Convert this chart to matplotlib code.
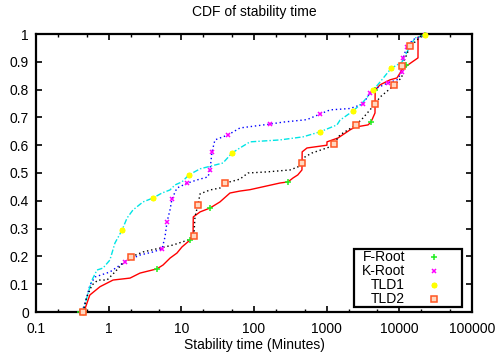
import matplotlib
matplotlib.use("Agg")
import matplotlib.pyplot as plt
from matplotlib.ticker import LogLocator, FixedLocator, NullFormatter
from matplotlib.patches import Rectangle

# ---------------- data ----------------
title = "CDF of stability time"
xlabel = "Stability time (Minutes)"
series_names = ["F-Root", "K-Root", "TLD1", "TLD2"]

f_x = [0.40, 0.47, 0.55, 0.76, 1.15, 1.97, 2.7, 4.6, 5.6, 7.0, 8.7, 10.2, 13.2, 14.5, 14.6,
       18.1, 24.8, 34, 46.7, 64, 88, 228, 294, 344, 400, 457, 460, 536, 1009, 1010, 1432,
       2094, 2455, 3706, 4070, 4625, 4650, 5420, 7430, 9290, 10870, 11960, 14940, 18060,
       18100, 22540, 25000]
f_y = [0.0, 0.01, 0.061, 0.091, 0.115, 0.122, 0.14, 0.155, 0.169, 0.194, 0.212, 0.234, 0.259,
       0.277, 0.342, 0.36, 0.374, 0.396, 0.428, 0.435, 0.44, 0.464, 0.468, 0.482, 0.493, 0.511,
       0.576, 0.59, 0.60, 0.612, 0.626, 0.655, 0.665, 0.673, 0.683, 0.716, 0.799, 0.817, 0.835,
       0.842, 0.871, 0.881, 0.899, 0.914, 0.989, 0.996, 1.0]
f_mx = [0.40, 4.6, 13.2, 24.8, 294, 4070, 4625, 12340, 22540]
f_my = [0.0, 0.155, 0.259, 0.374, 0.468, 0.683, 0.80, 0.888, 0.996]

k_x = [0.43, 0.50, 0.553, 0.65, 1.04, 1.68, 2.70, 4.07, 5.42, 5.96, 6.35, 6.98, 7.44, 8.7,
       11.97, 16.4, 23.3, 24.8, 26.4, 29, 43.9, 64, 166, 250, 536, 809, 1111, 2094, 3162,
       3945, 4925, 6980, 9290, 10870, 11220, 12740, 15420, 22540, 25000]
k_y = [0.0, 0.054, 0.097, 0.126, 0.144, 0.181, 0.205, 0.216, 0.227, 0.27, 0.324, 0.367, 0.407,
       0.446, 0.463, 0.475, 0.486, 0.511, 0.575, 0.619, 0.637, 0.662, 0.676, 0.683, 0.692,
       0.712, 0.727, 0.732, 0.748, 0.788, 0.806, 0.824, 0.835, 0.863, 0.914, 0.953, 0.98,
       0.995, 1.0]
k_mx = [0.43, 1.68, 5.42, 6.35, 7.44, 11.97, 24.8, 26.4, 43.9, 166, 809, 3162, 3945, 6980,
        10870, 11220, 12740, 22540]
k_my = [0.0, 0.181, 0.227, 0.324, 0.407, 0.463, 0.511, 0.575, 0.637, 0.676, 0.712, 0.748,
        0.788, 0.824, 0.863, 0.914, 0.953, 0.995]

t1_x = [0.444, 0.52, 0.59, 0.69, 0.836, 1.04, 1.22, 1.53, 1.79, 2.16, 2.97, 4.07, 5.42, 6.98,
        8.18, 10.2, 12.7, 18.1, 37.4, 49.8, 64, 88, 228, 472, 809, 1387, 1525, 2302, 3162,
        4340, 5420, 7680, 10870, 13150, 16410, 22540, 25000]
t1_y = [0.0, 0.068, 0.115, 0.151, 0.158, 0.187, 0.248, 0.295, 0.338, 0.367, 0.396, 0.41,
        0.428, 0.439, 0.457, 0.468, 0.493, 0.515, 0.536, 0.572, 0.59, 0.612, 0.619, 0.63,
        0.648, 0.673, 0.69, 0.723, 0.755, 0.797, 0.827, 0.876, 0.899, 0.942, 0.986, 0.996, 1.0]
t1_mx = [0.444, 1.53, 4.07, 12.7, 49.8, 809, 2302, 4340, 7680, 22540]
t1_my = [0.0, 0.295, 0.41, 0.493, 0.572, 0.648, 0.723, 0.797, 0.876, 0.996]

t2_x = [0.444, 0.50, 0.59, 0.713, 0.95, 1.22, 1.57, 2.03, 2.97, 5.09, 7.68, 12.4, 14.9, 15.4,
        16.9, 18.1, 24.8, 34, 39.9, 51.4, 64, 82.6, 151, 313, 403, 457, 503, 628, 1111, 1262,
        1525, 2531, 3162, 4625, 5420, 8440, 10870, 10900, 14020, 17500, 21150]
t2_y = [0.0, 0.054, 0.097, 0.115, 0.115, 0.144, 0.176, 0.198, 0.216, 0.23, 0.241, 0.259,
        0.273, 0.342, 0.385, 0.425, 0.439, 0.446, 0.464, 0.471, 0.478, 0.50, 0.504, 0.511,
        0.522, 0.536, 0.558, 0.572, 0.594, 0.606, 0.637, 0.673, 0.698, 0.748, 0.773, 0.815,
        0.845, 0.885, 0.955, 0.978, 1.0]
t2_mx = [0.444, 2.03, 14.9, 16.9, 39.9, 457, 1262, 2531, 4625, 8440, 10900, 14020]
t2_my = [0.0, 0.198, 0.273, 0.385, 0.464, 0.536, 0.606, 0.673, 0.748, 0.815, 0.885, 0.957]

x_ticks = [0.1, 1, 10, 100, 1000, 10000, 100000]
x_tick_labels = ["0.1", "1", "10", "100", "1000", "10000", "100000"]
y_ticks = [0, 0.1, 0.2, 0.3, 0.4, 0.5, 0.6, 0.7, 0.8, 0.9, 1.0]
y_tick_labels = ["0", "0.1", "0.2", "0.3", "0.4", "0.5", "0.6", "0.7", "0.8", "0.9", "1"]

# ---------------- styling ----------------
plt.rcParams['font.family'] = ['Liberation Sans', 'DejaVu Sans']
FS = 10
plt.rcParams['font.size'] = FS

fig = plt.figure(figsize=(4.96, 3.56), dpi=100)
ax = fig.add_axes([36/496, 1-312/356, 436/496, 278/356])

lines = [
    (f_x, f_y, f_mx, f_my, dict(color='#ff0000', lw=1.0, ls='-'),
     dict(marker='+', color='#22ee22', ms=4.5, mew=1.1)),
    (k_x, k_y, k_mx, k_my, dict(color='#0000ff', lw=1.0, ls=(0, (1, 2))),
     dict(marker='x', color='#ff00ff', ms=3.5, mew=1.1)),
    (t1_x, t1_y, t1_mx, t1_my, dict(color='#00e5e5', lw=1.0, ls=(0, (4, 1.5, 1, 1.5))),
     dict(marker=(8, 2, 0), color='#ffff00', ms=4, mew=1.4)),
    (t2_x, t2_y, t2_mx, t2_my, dict(color='#000000', lw=1.0, ls=(0, (1, 2))),
     dict(marker='s', mfc='#ffd8c0', mec='#ff5522', ms=3.8, mew=1.1)),
]

for xs, ys, mx, my, lst, mst in lines:
    ax.plot(xs, ys, zorder=2, **lst)
for xs, ys, mx, my, lst, mst in lines:
    ax.plot(mx, my, ls='none', zorder=3, clip_on=False, **mst)

ax.set_xscale('log')
ax.set_xlim(0.1, 100000)
ax.set_ylim(0, 1)
ax.xaxis.set_major_locator(FixedLocator(x_ticks))
ax.set_xticklabels(x_tick_labels)
ax.xaxis.set_minor_locator(LogLocator(base=10, subs=(2.0, 5.0)))
ax.xaxis.set_minor_formatter(NullFormatter())
ax.set_yticks(y_ticks)
ax.set_yticklabels(y_tick_labels)

ax.tick_params(axis='both', which='major', direction='in', length=4.5, width=1.2,
               top=True, right=True, pad=5, labelsize=FS)
ax.tick_params(axis='x', which='minor', direction='in', length=2.5, width=1.0,
               top=True, bottom=True)
ax.tick_params(axis='x', which='major', pad=7)
for sp in ax.spines.values():
    sp.set_linewidth(1.6)

fig.text(254/496, 1-12/356, title, ha='center', va='center', fontsize=FS)
fig.text(254/496, 1-345/356, xlabel, ha='center', va='center', fontsize=FS)

# legend (gnuplot style: right-aligned text, marker sample)
lx0, lx1 = (354-36)/436, (462-36)/436
ly0, ly1 = (312-307)/278, (312-249)/278
ax.add_patch(Rectangle((lx0, ly0), lx1-lx0, ly1-ly0, transform=ax.transAxes,
                       fill=True, facecolor='white', edgecolor='black', lw=1.6, zorder=5))
entry_y = [(312-257)/278, (312-271)/278, (312-285)/278, (312-299)/278]
for name, ey, (_, _, _, _, _, mst) in zip(series_names, entry_y, lines):
    ax.text((405-36)/436, ey, name, transform=ax.transAxes, ha='right', va='center',
            fontsize=FS, zorder=6)
    ax.plot([(434-36)/436], [ey], transform=ax.transAxes, ls='none', zorder=6,
            clip_on=False, **mst)

fig.savefig("out.png", dpi=100)
